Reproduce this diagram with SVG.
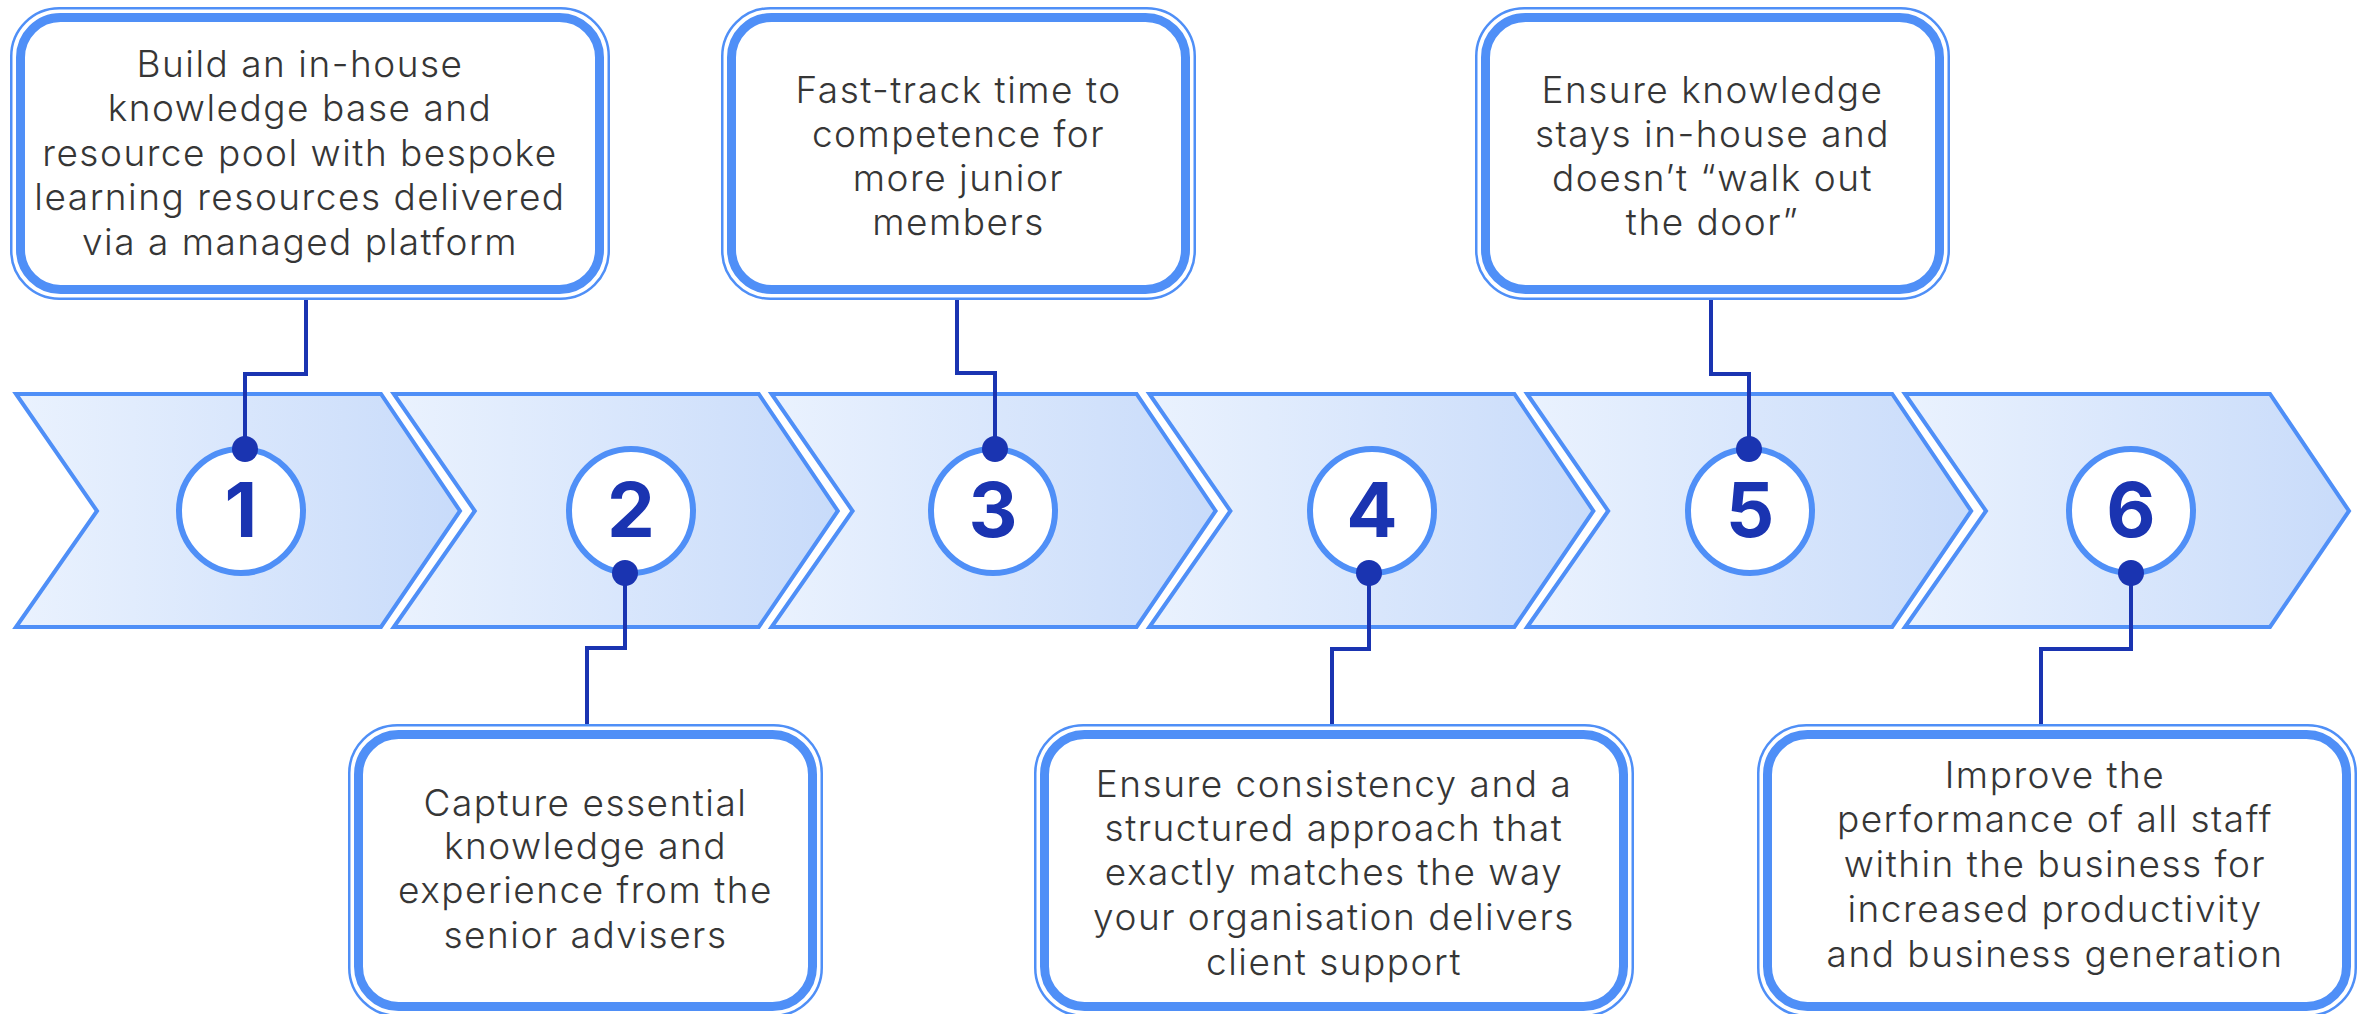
<svg xmlns="http://www.w3.org/2000/svg" width="2362" height="1014" viewBox="0 0 2362 1014">
<defs>
<linearGradient id="chev" x1="0" y1="0" x2="1" y2="0">
<stop offset="0" stop-color="#eaf2fe"/>
<stop offset="1" stop-color="#c8dbfa"/>
</linearGradient>
<style>
.chev{fill:url(#chev);stroke:#4f8ff7;stroke-width:4;stroke-linejoin:miter}
.ring{fill:#ffffff;stroke:#4f8ff7;stroke-width:6}
.num{font-family:Inter,"Liberation Sans",sans-serif;font-weight:700;font-size:76px;fill:#1a34b1;text-anchor:middle}
.dot{fill:#1a34b1}
.conn{fill:none;stroke:#1a34b1;stroke-width:4}
.thin{fill:none;stroke:#4f8ff7;stroke-width:2.5}
.thick{fill:#ffffff;stroke:#4f8ff7;stroke-width:9}
.txt{font-family:Inter,"Liberation Sans",sans-serif;font-weight:300;font-size:37px;letter-spacing:1.5px;fill:#363636;text-anchor:middle}
</style>
</defs>
<rect width="2362" height="1014" fill="#ffffff"/>

<g id="chevrons">
<polygon class="chev" points="16,394 381,394 460,511 381,627 16,627 97,511"/>
<polygon class="chev" points="393.8,394 758.8,394 837.8,511 758.8,627 393.8,627 474.8,511"/>
<polygon class="chev" points="771.6,394 1136.6,394 1215.6,511 1136.6,627 771.6,627 852.6,511"/>
<polygon class="chev" points="1149.4,394 1514.4,394 1593.4,511 1514.4,627 1149.4,627 1230.4,511"/>
<polygon class="chev" points="1527.2,394 1892.2,394 1971.2,511 1892.2,627 1527.2,627 1608.2,511"/>
<polygon class="chev" points="1905,394 2270,394 2349,511 2270,627 1905,627 1986,511"/>
</g>

<g id="step1"><circle class="ring" cx="241" cy="511" r="62"/><text class="num" x="241" y="537">1</text></g>
<g id="step2"><circle class="ring" cx="631" cy="511" r="62"/><text class="num" x="631" y="537">2</text></g>
<g id="step3"><circle class="ring" cx="993" cy="511" r="62"/><text class="num" x="993" y="537">3</text></g>
<g id="step4"><circle class="ring" cx="1372" cy="511" r="62"/><text class="num" x="1372" y="537">4</text></g>
<g id="step5"><circle class="ring" cx="1750" cy="511" r="62"/><text class="num" x="1750" y="537">5</text></g>
<g id="step6"><circle class="ring" cx="2131" cy="511" r="62"/><text class="num" x="2131" y="537">6</text></g>

<g id="connectors">
<path class="conn" d="M306,300 V374 H245 V449"/>
<path class="conn" d="M957,300 V373 H995 V449"/>
<path class="conn" d="M1711,300 V374 H1749 V449"/>
<path class="conn" d="M625,573 V648 H587 V724"/>
<path class="conn" d="M1369,573 V649 H1332 V724"/>
<path class="conn" d="M2131,573 V649 H2041 V724"/>
<circle class="dot" cx="245" cy="449" r="13"/>
<circle class="dot" cx="995" cy="449" r="13"/>
<circle class="dot" cx="1749" cy="449" r="13"/>
<circle class="dot" cx="625" cy="573" r="13"/>
<circle class="dot" cx="1369" cy="573" r="13"/>
<circle class="dot" cx="2131" cy="573" r="13"/>
</g>

<g id="box1">
<rect class="thin" x="11.25" y="8.25" width="597.5" height="290.5" rx="48"/>
<rect class="thick" x="20.5" y="17.5" width="579" height="272" rx="40"/>
<text class="txt"><tspan x="300" y="77">Build an in-house</tspan><tspan x="300" y="121">knowledge base and</tspan><tspan x="300" y="166">resource pool with bespoke</tspan><tspan x="300" y="210">learning resources delivered</tspan><tspan x="300" y="255">via a managed platform</tspan></text>
</g>

<g id="box3">
<rect class="thin" x="722.25" y="8.25" width="472.5" height="290.5" rx="48"/>
<rect class="thick" x="731.5" y="17.5" width="454" height="272" rx="40"/>
<text class="txt"><tspan x="958.5" y="103">Fast-track time to</tspan><tspan x="958.5" y="147">competence for</tspan><tspan x="958.5" y="191">more junior</tspan><tspan x="958.5" y="235">members</tspan></text>
</g>

<g id="box5">
<rect class="thin" x="1476.25" y="8.25" width="472.5" height="290.5" rx="48"/>
<rect class="thick" x="1485.5" y="17.5" width="454" height="272" rx="40"/>
<text class="txt"><tspan x="1712.5" y="103">Ensure knowledge</tspan><tspan x="1712.5" y="147">stays in-house and</tspan><tspan x="1712.5" y="191">doesn’t “walk out</tspan><tspan x="1712.5" y="235">the door”</tspan></text>
</g>

<g id="box2">
<rect class="thin" x="349.25" y="725.25" width="472.5" height="290.5" rx="48"/>
<rect class="thick" x="358.5" y="734.5" width="454" height="272" rx="40"/>
<text class="txt"><tspan x="585.5" y="816">Capture essential</tspan><tspan x="585.5" y="859">knowledge and</tspan><tspan x="585.5" y="903">experience from the</tspan><tspan x="585.5" y="948">senior advisers</tspan></text>
</g>

<g id="box4">
<rect class="thin" x="1035.25" y="725.25" width="597.5" height="290.5" rx="48"/>
<rect class="thick" x="1044.5" y="734.5" width="579" height="272" rx="40"/>
<text class="txt"><tspan x="1334" y="797">Ensure consistency and a</tspan><tspan x="1334" y="841">structured approach that</tspan><tspan x="1334" y="885">exactly matches the way</tspan><tspan x="1334" y="930">your organisation delivers</tspan><tspan x="1334" y="975">client support</tspan></text>
</g>

<g id="box6">
<rect class="thin" x="1758.25" y="725.25" width="597.5" height="290.5" rx="48"/>
<rect class="thick" x="1767.5" y="734.5" width="579" height="272" rx="40"/>
<text class="txt"><tspan x="2055" y="788">Improve the</tspan><tspan x="2055" y="832">performance of all staff</tspan><tspan x="2055" y="877">within the business for</tspan><tspan x="2055" y="922">increased productivity</tspan><tspan x="2055" y="967">and business generation</tspan></text>
</g>
</svg>
